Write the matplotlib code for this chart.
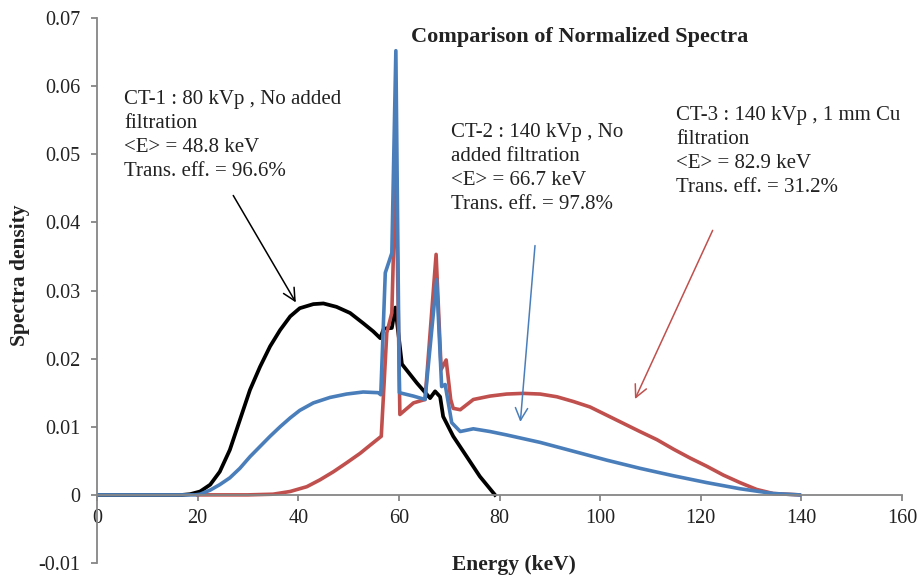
import numpy as np
import matplotlib.pyplot as plt

plt.rcParams['font.family'] = ['Liberation Serif', 'DejaVu Serif']

# CT-1 : 80 kVp, no added filtration
ct1_e = [0, 17, 18.5, 20.5, 22.5, 24.4, 26.4, 28.4, 30.4, 32.4, 34.4, 36.4, 38.4,
         40.3, 43.0, 45.0, 47.6, 50.3, 52.9, 54.9, 56.3, 57.0, 58.6, 59.3, 60.6,
         63.6, 66.2, 67.2, 68.2, 68.8, 70.8, 73.5, 76.1, 79.1]
ct1_d = [0, 0, 0.0001, 0.0005, 0.0015, 0.0034, 0.0066, 0.0110, 0.0154, 0.0188,
         0.0218, 0.0242, 0.0262, 0.0274, 0.0280, 0.0281, 0.0276, 0.0267, 0.0252,
         0.0240, 0.0230, 0.0244, 0.0245, 0.0275, 0.0192, 0.0164, 0.0142, 0.0152,
         0.0144, 0.0115, 0.0086, 0.0056, 0.0027, 0]

# CT-2 : 140 kVp, no added filtration
ct2_e = [0, 19.5, 20.5, 22.5, 24.4, 26.4, 28.4, 30.4, 32.4, 34.4, 36.4, 38.4,
         40.3, 43.0, 46.3, 49.6, 52.9, 55.9, 56.4, 57.3, 58.6, 59.4, 60.1, 62.9,
         65.2, 67.5, 68.5, 69.2, 70.5, 72.2, 74.8, 78.1, 81.4, 88.1, 94.7, 101.3,
         107.9, 114.6, 121.2, 127.8, 134.4, 139.6]
ct2_d = [0, 0, 0.0001, 0.0007, 0.0015, 0.0025, 0.0039, 0.0056, 0.0071, 0.0086,
         0.0100, 0.0113, 0.0124, 0.0135, 0.0143, 0.0148, 0.0151, 0.0150, 0.0147,
         0.0326, 0.0355, 0.0652, 0.0150, 0.0145, 0.0140, 0.0316, 0.0159, 0.0162,
         0.0106, 0.0093, 0.0097, 0.0093, 0.0088, 0.0077, 0.0064, 0.0051, 0.0039,
         0.0028, 0.0018, 0.0009, 0.0002, 0]

# CT-3 : 140 kVp, 1 mm Cu filtration
ct3_e = [20, 30, 35.0, 38.4, 41.7, 44.3, 47.0, 49.6, 52.3, 54.3, 56.5, 57.6, 58.6,
         59.4, 60.2, 62.9, 65.2, 67.4, 68.4, 69.4, 70.3, 70.8, 72.2, 74.8, 78.1,
         81.4, 84.7, 88.1, 91.4, 94.7, 98.0, 101.3, 104.6, 107.9, 111.3, 114.6,
         117.9, 121.2, 124.5, 127.8, 131.1, 134.4, 139.6]
ct3_d = [0, 0, 0.0001, 0.0005, 0.0012, 0.0022, 0.0034, 0.0047, 0.0061, 0.0073,
         0.0086, 0.0238, 0.0267, 0.0488, 0.0118, 0.0135, 0.0140, 0.0353, 0.0184,
         0.0198, 0.0140, 0.0127, 0.0125, 0.0140, 0.0145, 0.0148, 0.0149, 0.0148,
         0.0144, 0.0137, 0.0129, 0.0117, 0.0105, 0.0093, 0.0081, 0.0067, 0.0054,
         0.0042, 0.0029, 0.0018, 0.0008, 0.0002, 0]

blue = '#4a7ebb'
red = '#c0504d'

fig = plt.figure(figsize=(9.17, 5.75), dpi=100)
ax = fig.add_axes([97/917, 12/575, 805/917, 545/575])

ax.plot(ct1_e, ct1_d, color='black', lw=2.7, solid_joinstyle='round')
ax.plot(ct3_e, ct3_d, color=red, lw=2.6, solid_joinstyle='round')
ax.plot(ct2_e, ct2_d, color=blue, lw=2.6, solid_joinstyle='round')

ax.set_xlim(0, 160)
ax.set_ylim(-0.01, 0.07)
ax.set_xticks(np.arange(0, 161, 20))
ax.set_yticks(np.arange(-0.01, 0.0701, 0.01))
ax.set_yticklabels(['-0.01', '0', '0.01', '0.02', '0.03', '0.04', '0.05', '0.06', '0.07'])

for s in ['top', 'right']:
    ax.spines[s].set_visible(False)
ax.spines['bottom'].set_position(('data', 0))
for s in ['left', 'bottom']:
    ax.spines[s].set_color('#868686')
    ax.spines[s].set_linewidth(1.3)
ax.tick_params(axis='both', direction='out', length=4.5, width=1.3,
               color='#868686', labelsize=14.5, labelcolor='#222222')
ax.tick_params(axis='y', pad=7.5)
ax.tick_params(axis='x', pad=6)

fig.text(20/917, 1 - 275/575, 'Spectra density', rotation=90, ha='center',
         va='center', fontsize=15.5, fontweight='bold', color='#222222')
fig.text(514/917, 1 - 565/575, 'Energy (keV)', ha='center', va='center',
         fontsize=15.5, fontweight='bold', color='#222222')

ax.text(96.0, 0.0672, 'Comparison of Normalized Spectra', ha='center',
        va='center', fontsize=16, fontweight='bold', color='#222222')

txt = dict(fontsize=15, color='#222222', va='top', ha='left', linespacing=1.36)
ax.text(5.4, 0.0595, 'CT-1 : 80 kVp , No added\nfiltration\n<E> = 48.8 keV\nTrans. eff. = 96.6%', **txt)
ax.text(70.4, 0.0546, 'CT-2 : 140 kVp , No\nadded filtration\n<E> = 66.7 keV\nTrans. eff. = 97.8%', **txt)
ax.text(115.1, 0.0571, 'CT-3 : 140 kVp , 1 mm Cu\nfiltration\n<E> = 82.9 keV\nTrans. eff. = 31.2%', **txt)

arr = dict(arrowstyle='->', lw=1.1, mutation_scale=22)
ax.annotate('', xy=(39.8, 0.0279), xytext=(26.8, 0.0443),
            arrowprops=dict(color='black', **arr))
ax.annotate('', xy=(84.1, 0.0103), xytext=(87.1, 0.0370),
            arrowprops=dict(color=blue, **arr))
ax.annotate('', xy=(106.7, 0.0137), xytext=(122.6, 0.0392),
            arrowprops=dict(color=red, **arr))

fig.savefig('out.png', dpi=100)
